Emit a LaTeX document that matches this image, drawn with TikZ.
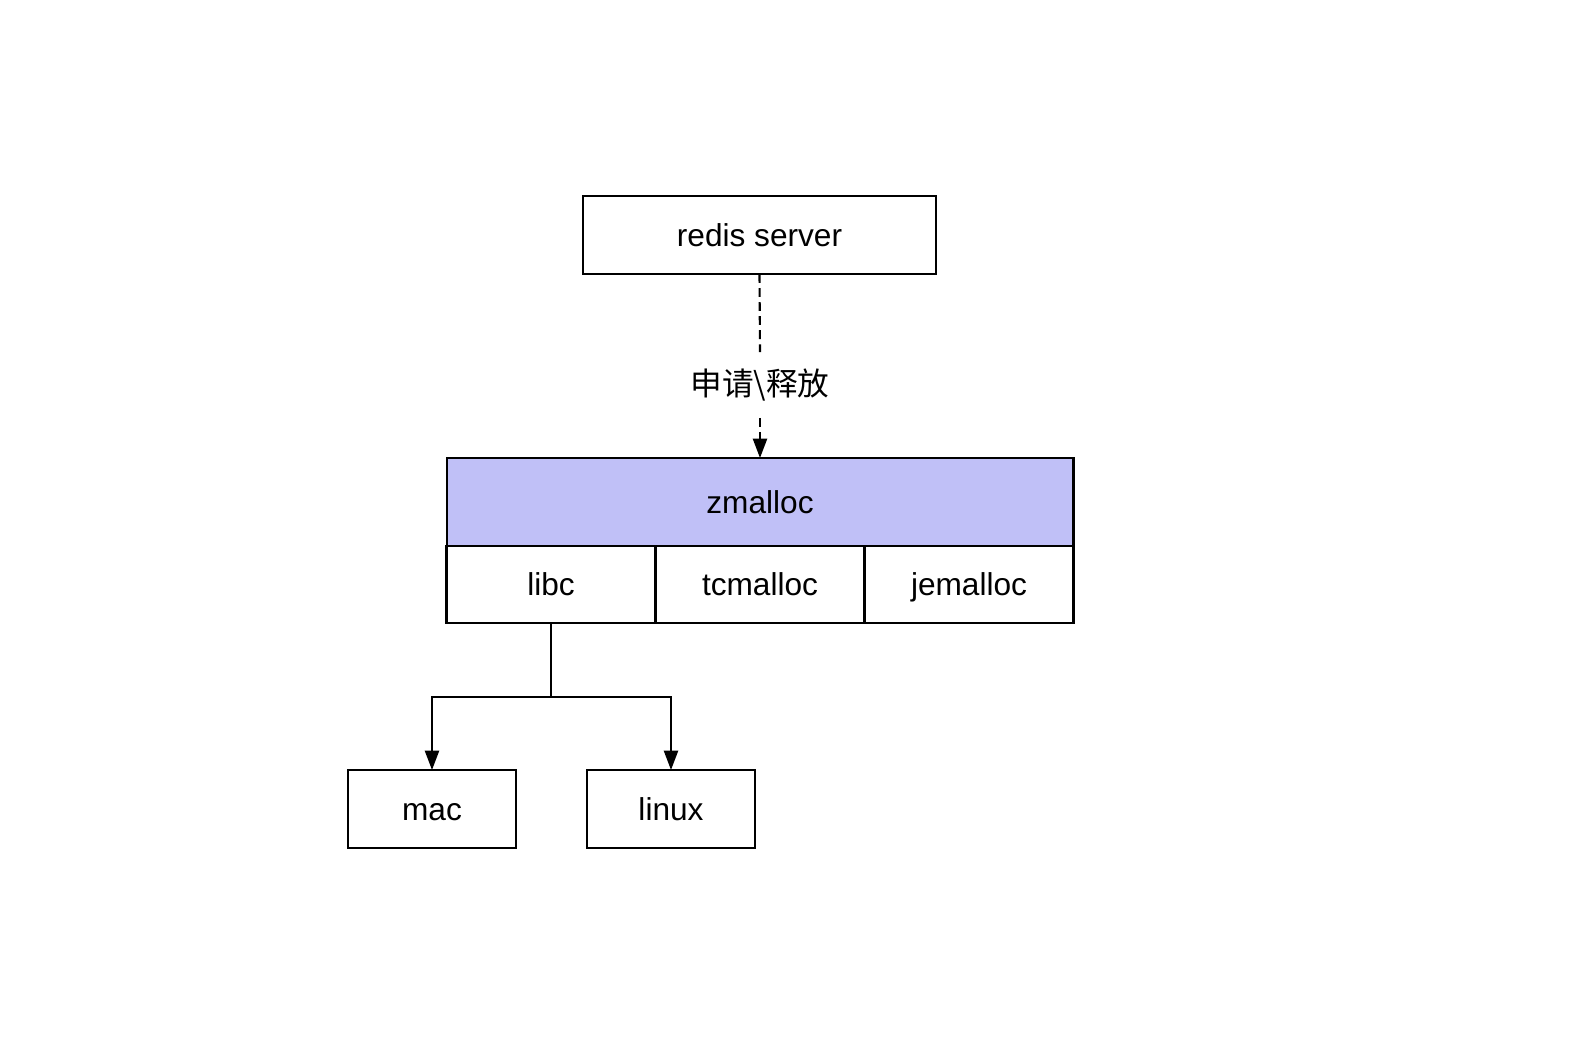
\documentclass[tikz,border=0pt]{standalone}
\usepackage{fontspec}
\setmainfont{Liberation Sans}
\newfontfamily\cjk{Noto Sans CJK SC}
\usetikzlibrary{arrows.meta}

\begin{document}
\begin{tikzpicture}[x=0.02cm,y=-0.02cm,
  block/.style={draw,line width=1.2pt,inner sep=0pt,outer sep=0pt,text height=13pt,text depth=0pt,font=\fontsize{18}{22}\selectfont},
  cell/.style={block,minimum width=4.18cm,minimum height=1.54cm},
  leaf/.style={block,minimum width=3.36cm,minimum height=1.56cm},
  link/.style={line width=1.2pt,-{Triangle[length=11pt,width=8pt]}}]
\definecolor{zfill}{HTML}{C0C0F7}
\useasboundingbox (0,0) rectangle (1596,1056);

\path
(759.5,235) node [block,minimum width=7.06cm,minimum height=1.56cm] (redis) {redis server}
(760,385) node [minimum height=1.3cm,inner sep=0pt,font=\cjk\fontsize{18}{22}\selectfont] (req) {申请\textbackslash 释放}
(760,502) node [block,fill=zfill,minimum width=12.54cm,minimum height=1.76cm] (zmalloc) {zmalloc}
(551,584.5) node [cell] (libc) {libc}
(760,584.5) node [cell] (tcmalloc) {tcmalloc}
(969,584.5) node [cell] (jemalloc) {jemalloc}
(432,809) node [leaf] (mac) {mac}
(671,809) node [leaf] (linux) {linux}
;

% redis -> zmalloc
\draw[line width=1.2pt,dash pattern=on 5pt off 3pt] (redis.south) -- (req.north);
\draw[link,dash pattern=on 5pt off 3pt] (req.south) -- (zmalloc.north);

% libc -> platforms
\coordinate (split) at (551,697);
\draw[line width=1.2pt] (libc.south) -- (split);
\draw[link] (split) -| (mac.north);
\draw[link] (split) -| (linux.north);
\end{tikzpicture}
\end{document}
